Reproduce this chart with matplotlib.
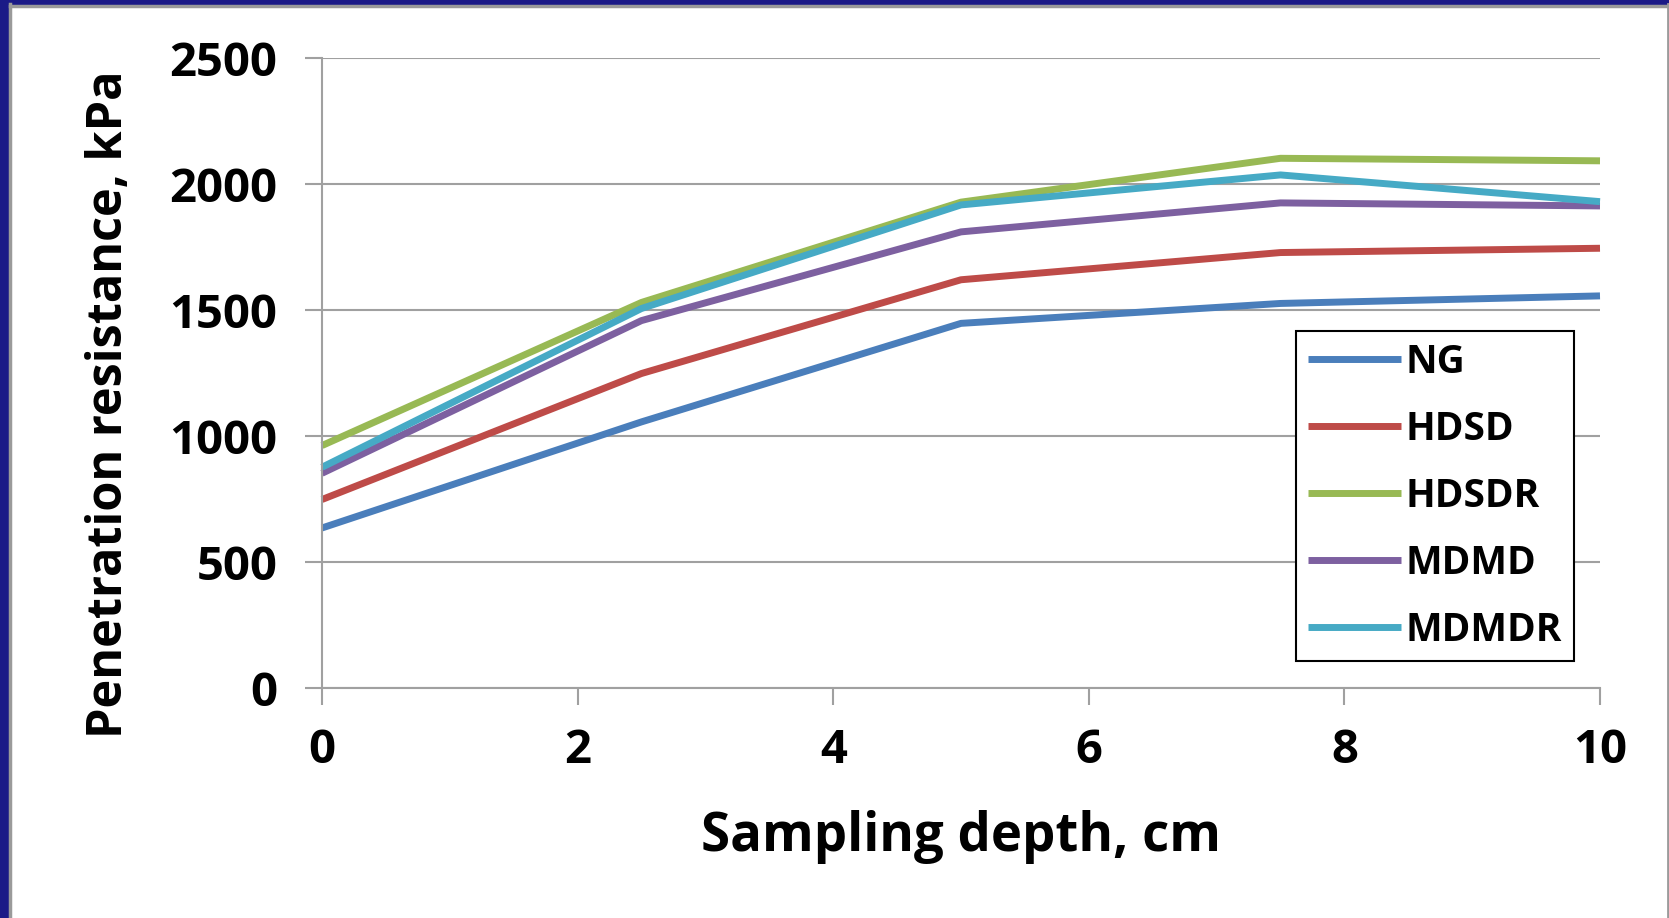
import matplotlib
matplotlib.use("Agg")
import matplotlib.pyplot as plt
from matplotlib.patches import Rectangle
from matplotlib.lines import Line2D

# Datos
profundidad = [0, 2.5, 5, 7.5, 10]
ng = [635, 1056, 1447, 1526, 1556]
hdsd = [748, 1248, 1620, 1728, 1745]
hdsdr = [962, 1530, 1928, 2102, 2092]
mdmd = [852, 1458, 1810, 1925, 1913]
mdmdr = [876, 1506, 1917, 2036, 1930]

series = ["NG", "HDSD", "HDSDR", "MDMD", "MDMDR"]
colores = ["#4A7EBB", "#BE4B48", "#98B954", "#7D60A0", "#46AAC5"]
valores = [ng, hdsd, hdsdr, mdmd, mdmdr]

plt.rcParams["font.family"] = ["Open Sans", "DejaVu Sans"]
plt.rcParams["font.weight"] = "bold"

fig = plt.figure(figsize=(16.69, 9.18), dpi=100)
fig.patch.set_facecolor("white")

# Marco azul y linea gris del borde
fig.add_artist(Rectangle((0, 0), 8 / 1669, 1, transform=fig.transFigure,
                         color="#1b1a87", zorder=0))
fig.add_artist(Rectangle((0, 1 - 4 / 918), 1, 4 / 918, transform=fig.transFigure,
                         color="#1b1a87", zorder=0))
fig.add_artist(Line2D([9.5 / 1669, 9.5 / 1669], [0, 1 - 4 / 918], transform=fig.transFigure,
                      color="#9a9a9a", lw=2.5))
fig.add_artist(Line2D([9.5 / 1669, 1], [1 - 6 / 918, 1 - 6 / 918], transform=fig.transFigure,
                      color="#9a9a9a", lw=2.5))
fig.add_artist(Line2D([1667.5 / 1669, 1667.5 / 1669], [0, 1 - 4 / 918], transform=fig.transFigure,
                      color="#9a9a9a", lw=2))

ax = fig.add_axes([322 / 1669, 1 - 688 / 918, (1600 - 322) / 1669, (688 - 58) / 918])

for nombre, color, vals in zip(series, colores, valores):
    ax.plot(profundidad, vals, color=color, lw=5, label=nombre, solid_capstyle="butt",
            solid_joinstyle="round", clip_on=False)

ax.set_xlim(0, 10)
ax.set_ylim(0, 2500)
ax.set_xticks([0, 2, 4, 6, 8, 10])
ax.set_yticks([0, 500, 1000, 1500, 2000, 2500])
ax.grid(axis="y", color="#a0a0a0", lw=1.5)
ax.set_axisbelow(True)

for lado in ["top", "right"]:
    ax.spines[lado].set_visible(False)
for lado in ["left", "bottom"]:
    ax.spines[lado].set_color("#a0a0a0")
    ax.spines[lado].set_linewidth(1.5)

ax.tick_params(axis="both", colors="#a0a0a0", labelcolor="black", length=12, width=1.5,
               labelsize=34)
ax.tick_params(axis="y", pad=20)
ax.tick_params(axis="x", pad=16)

ax.set_xlabel("Sampling depth, cm", fontsize=38, fontweight="bold", labelpad=26)
ax.set_ylabel("Penetration resistance, kPa", fontsize=35, fontweight="bold")
ax.yaxis.set_label_coords(-0.147, 0.451)

ley = ax.legend(loc="upper left", bbox_to_anchor=((1296 - 322) / 1278, (688 - 331) / 630),
                fontsize=28, frameon=True, fancybox=False, framealpha=1,
                edgecolor="black", handlelength=2.4, handletextpad=0.12,
                labelspacing=0.72, borderpad=0.3, borderaxespad=0)
ley.get_frame().set_linewidth(1.5)
for t in ley.get_texts():
    t.set_fontweight("bold")

fig.savefig("out.png", dpi=100)
